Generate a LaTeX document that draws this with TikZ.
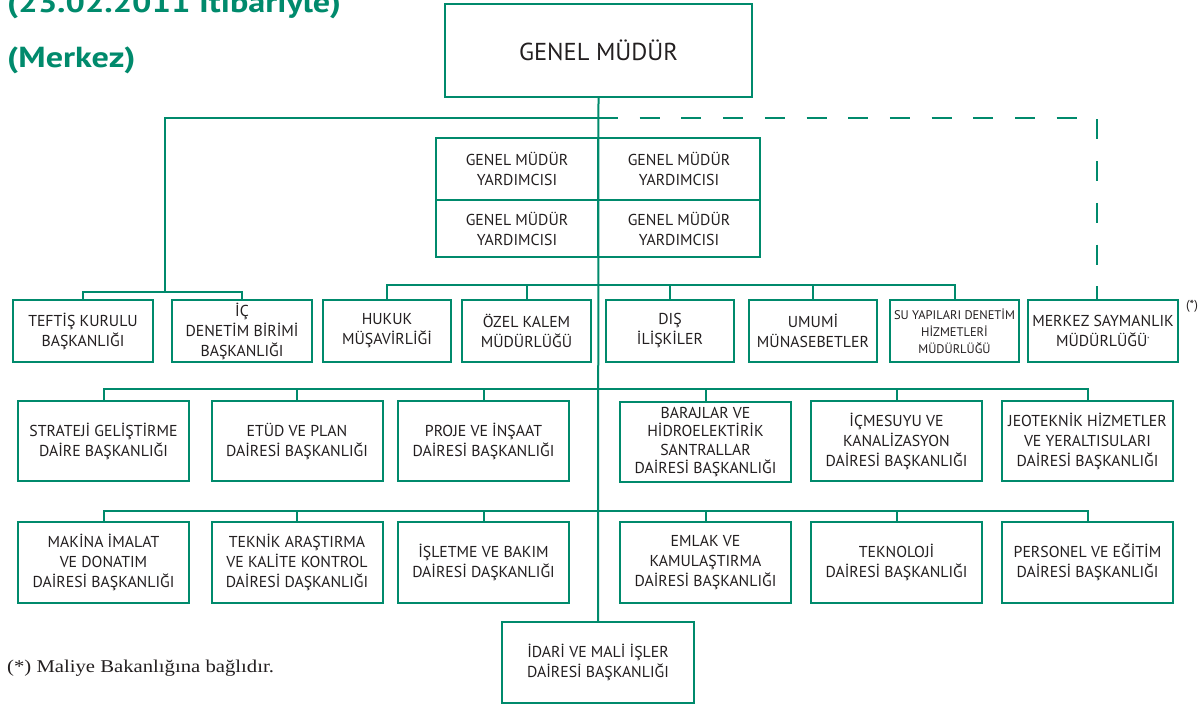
\documentclass[tikz,border=0pt]{standalone}
\usepackage{fontspec}
\setmainfont{PT Sans}
\newfontfamily\notefont[FakeStretch=1.15]{Liberation Serif}
\newfontfamily\titlefont[FakeStretch=1.18]{PT Sans Bold}
\definecolor{dsigreen}{HTML}{008A6C}
\definecolor{txt}{HTML}{231F20}
\tikzset{
  box/.style={draw=dsigreen, line width=2pt, fill=white, align=center, text=txt,
    font=\fontsize{15.8}{20}\selectfont, inner sep=1pt, anchor=center},
  rowa/.style={box, minimum height=62pt},
  rowb/.style={box, minimum height=80pt, minimum width=171pt},
  rowc/.style={box, minimum height=81pt, minimum width=171pt},
  conn/.style={draw=dsigreen, line width=2pt},
  dconn/.style={draw=dsigreen, line width=2pt, dash pattern=on 20pt off 21.7pt},
  titletext/.style={anchor=base west, text=dsigreen, font=\titlefont\fontsize{29}{29}\selectfont, inner sep=0pt},
}
\begin{document}
\begin{tikzpicture}[x=1pt,y=-1pt]
\useasboundingbox (0,0) rectangle (1203,707);

% titles
\node[titletext] (tA) at (7,12) {(23.02.2011 İtibariyle)};
\node[titletext] (tB) at (7,67) {(Merkez)};

% general director
\node[box, minimum width=307pt, minimum height=93pt, font=\fontsize{24.5}{28}\selectfont] (gm) at (598.5,50.5) {GENEL MÜDÜR};

% deputies
\node[box, minimum width=162pt, minimum height=62pt] (g1) at (517,169) {GENEL MÜDÜR\\YARDIMCISI};
\node[box, minimum width=162pt, minimum height=62pt] (g2) at (679,169) {GENEL MÜDÜR\\YARDIMCISI};
\node[box, minimum width=162pt, minimum height=57pt] (g3) at (517,228.5) {GENEL MÜDÜR\\YARDIMCISI};
\node[box, minimum width=162pt, minimum height=57pt] (g4) at (679,228.5) {GENEL MÜDÜR\\YARDIMCISI};

% row 1
\node[rowa, minimum width=140pt] (t1) at (83,331) {TEFTİŞ KURULU\\BAŞKANLIĞI};
\node[rowa, minimum width=140pt] (t2) at (242,331) {İÇ\\DENETİM BİRİMİ\\BAŞKANLIĞI};
\node[rowa, minimum width=128pt] (t3) at (387,331) {HUKUK\\MÜŞAVİRLİĞİ};
\node[rowa, minimum width=129pt] (t4) at (526.5,331) {ÖZEL KALEM\\MÜDÜRLÜĞÜ};
\node[rowa, minimum width=128pt] (t5) at (670,331) {DIŞ\\İLİŞKİLER};
\node[rowa, minimum width=128pt] (t6) at (813,331) {UMUMİ\\MÜNASEBETLER};
\node[rowa, minimum width=129pt, font=\fontsize{12.5}{17}\selectfont] (t7) at (954.5,331) {SU YAPILARI DENETİM\\HİZMETLERİ\\MÜDÜRLÜĞÜ};
\node[rowa, minimum width=150pt] (t8) at (1103,331) {MERKEZ SAYMANLIK\\MÜDÜRLÜĞÜ\textsuperscript{\fontsize{6}{6}\selectfont*}};
\node[anchor=center, text=txt, font=\fontsize{13}{13}\selectfont, inner sep=0pt] (star) at (1192,306) {(*)};

% row 2
\node[rowb] (r1) at (103.5,441) {STRATEJİ GELİŞTİRME\\DAİRE BAŞKANLIĞI};
\node[rowb] (r2) at (297,441) {ETÜD VE PLAN\\DAİRESİ BAŞKANLIĞI};
\node[rowb] (r3) at (483.5,441) {PROJE VE İNŞAAT\\DAİRESİ BAŞKANLIĞI};
\node[rowb, font=\fontsize{15.8}{18.5}\selectfont] (r4) at (705.5,442) {BARAJLAR VE\\HİDROELEKTİRİK\\SANTRALLAR\\DAİRESİ BAŞKANLIĞI};
\node[rowb] (r5) at (896.5,441) {İÇMESUYU VE\\KANALİZASYON\\DAİRESİ BAŞKANLIĞI};
\node[rowb] (r6) at (1087.5,441) {JEOTEKNİK HİZMETLER\\VE YERALTISULARI\\DAİRESİ BAŞKANLIĞI};

% row 3
\node[rowc] (m1) at (103.5,562.5) {MAKİNA İMALAT\\VE DONATIM\\DAİRESİ BAŞKANLIĞI};
\node[rowc] (m2) at (297,562.5) {TEKNİK ARAŞTIRMA\\VE KALİTE KONTROL\\DAİRESİ DAŞKANLIĞI};
\node[rowc] (m3) at (483.5,562.5) {İŞLETME VE BAKIM\\DAİRESİ DAŞKANLIĞI};
\node[rowc] (m4) at (705.5,562.5) {EMLAK VE\\KAMULAŞTIRMA\\DAİRESİ BAŞKANLIĞI};
\node[rowc] (m5) at (896.5,562.5) {TEKNOLOJİ\\DAİRESİ BAŞKANLIĞI};
\node[rowc] (m6) at (1087.5,562.5) {PERSONEL VE EĞİTİM\\DAİRESİ BAŞKANLIĞI};

% row 4
\node[box, minimum width=192pt, minimum height=81pt] (idari) at (598,662.5) {İDARİ VE MALİ İŞLER\\DAİRESİ BAŞKANLIĞI};

% footnote
\node[anchor=base west, text=txt, font=\notefont\fontsize{18}{18}\selectfont, inner sep=0pt] (note) at (7,672) {(*) Maliye Bakanlığına bağlıdır.};

% connectors
\coordinate (j1) at (598,118);
\coordinate (lb) at (165,292);
\coordinate (dc) at (1097,118);
\coordinate (de) at (1097,300);

\draw[dconn] (j1) -- (dc) -- (de);
\draw[conn] (gm.south) -- (idari.north);
\draw[conn] (j1) -| (lb);
\draw[conn] (t1.north) |- (lb) -| (t2.north);
\draw[conn] (t3.north) -- ++(0,-14) -| (t7.north);
\draw[conn] (t4.north) -- ++(0,-14);
\draw[conn] (t5.north) -- ++(0,-14);
\draw[conn] (t6.north) -- ++(0,-14);
\draw[conn] (r1.north) -- ++(0,-11) -| (r6.north);
\foreach \n in {r2,r3,r4,r5} \draw[conn] (\n.north) -- ++(0,-11);
\draw[conn] (m1.north) -- ++(0,-10) -| (m6.north);
\foreach \n in {m2,m3,m4,m5} \draw[conn] (\n.north) -- ++(0,-10);
\end{tikzpicture}
\end{document}
